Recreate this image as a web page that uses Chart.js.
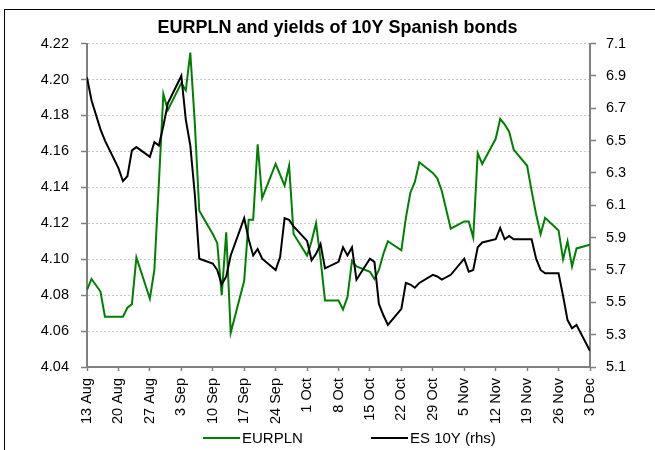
<!DOCTYPE html>
<html>
<head>
<meta charset="utf-8">
<script src="https://cdn.jsdelivr.net/npm/chart.js@4.4.0/dist/chart.umd.min.js"></script>
<style>
  html, body { margin: 0; padding: 0; background: #fff; }
  #wrap { position: relative; width: 655px; height: 450px; overflow: hidden; }
  #frame { position: absolute; left: 4px; top: 9px; width: 700px; height: 500px; border: 1px solid #000; }
  canvas { position: absolute; left: 0; top: 0; }
</style>
</head>
<body>
<div id="wrap">
  <div id="frame"></div>
  <canvas id="chart" width="655" height="450"></canvas>
</div>
<script>
// Business days, Aug 13 - Dec 3 2012 (null = holiday, no quote)
const dates = [
  "2012-08-13", "2012-08-14", "2012-08-15", "2012-08-16", "2012-08-17",
  "2012-08-20", "2012-08-21", "2012-08-22", "2012-08-23", "2012-08-24",
  "2012-08-27", "2012-08-28", "2012-08-29", "2012-08-30", "2012-08-31",
  "2012-09-03", "2012-09-04", "2012-09-05", "2012-09-06", "2012-09-07",
  "2012-09-10", "2012-09-11", "2012-09-12", "2012-09-13", "2012-09-14",
  "2012-09-17", "2012-09-18", "2012-09-19", "2012-09-20", "2012-09-21",
  "2012-09-24", "2012-09-25", "2012-09-26", "2012-09-27", "2012-09-28",
  "2012-10-01", "2012-10-02", "2012-10-03", "2012-10-04", "2012-10-05",
  "2012-10-08", "2012-10-09", "2012-10-10", "2012-10-11", "2012-10-12",
  "2012-10-15", "2012-10-16", "2012-10-17", "2012-10-18", "2012-10-19",
  "2012-10-22", "2012-10-23", "2012-10-24", "2012-10-25", "2012-10-26",
  "2012-10-29", "2012-10-30", "2012-10-31", "2012-11-01", "2012-11-02",
  "2012-11-05", "2012-11-06", "2012-11-07", "2012-11-08", "2012-11-09",
  "2012-11-12", "2012-11-13", "2012-11-14", "2012-11-15", "2012-11-16",
  "2012-11-19", "2012-11-20", "2012-11-21", "2012-11-22", "2012-11-23",
  "2012-11-26", "2012-11-27", "2012-11-28", "2012-11-29", "2012-11-30",
  "2012-12-03"
];

const eurpln = [
  4.083, 4.089, null, 4.082, 4.068,
  4.068, 4.068, 4.073, 4.075, 4.101,
  4.078, 4.094, 4.142, 4.192, 4.183,
  4.198, 4.194, 4.215, 4.176, 4.127,
  4.114, 4.109, 4.080, 4.115, 4.059,
  4.088, 4.122, 4.122, 4.164, 4.134,
  4.153, 4.147, 4.141, 4.152, 4.114,
  4.102, 4.110, 4.120, 4.100, 4.077,
  4.077, 4.072, 4.079, 4.099, 4.096,
  4.093, 4.089, 4.094, 4.103, 4.110,
  4.105, 4.123, 4.137, 4.143, 4.154,
  4.148, 4.145, 4.138, null, 4.117,
  4.121, 4.121, 4.112, 4.159, 4.153,
  4.167, 4.178, 4.175, 4.171, 4.161,
  4.152, 4.138, 4.125, 4.114, 4.123,
  4.116, 4.100, 4.110, 4.096, 4.106,
  4.108
];

const es10y = [
  6.89, 6.75, null, 6.57, 6.50,
  6.33, 6.25, 6.28, 6.44, 6.46,
  6.40, 6.49, 6.47, 6.59, 6.73,
  6.90, 6.63, 6.47, 6.17, 5.77,
  5.74, 5.70, 5.61, 5.66, 5.79,
  6.02, 5.89, 5.79, 5.83, 5.77,
  5.70, 5.78, 6.02, 6.01, 5.97,
  5.88, 5.76, 5.80, 5.86, 5.71,
  5.75, 5.84, 5.79, 5.84, 5.64,
  5.77, 5.75, 5.49, 5.42, 5.36,
  5.46, 5.62, 5.61, 5.59, 5.62,
  5.67, 5.66, 5.64, null, 5.67,
  5.77, 5.69, 5.70, 5.84, 5.87,
  5.89, 5.96, 5.89, 5.91, 5.89,
  5.89, 5.89, 5.77, 5.70, 5.68,
  5.68, 5.54, 5.39, 5.34, 5.36,
  5.20
];

const weekLabels = [
  "13 Aug", "20 Aug", "27 Aug", "3 Sep", "10 Sep", "17 Sep", "24 Sep",
  "1 Oct", "8 Oct", "15 Oct", "22 Oct", "29 Oct", "5 Nov", "12 Nov",
  "19 Nov", "26 Nov", "3 Dec"
];

const fontFamily = '"Liberation Sans", Arial, sans-serif';
const axisGray = '#808080';

// day offsets from the first date
const day0 = Date.parse(dates[0]);
const days = dates.map(d => (Date.parse(d) - day0) / 86400000);
const toPoints = vals => days.map((x, i) => ({ x: x, y: vals[i] }));

// simple line legend under the axis
const lineLegend = {
  id: 'lineLegend',
  afterDraw(chart) {
    const ctx = chart.ctx;
    const y = 438;
    const starts = [203, 371];
    ctx.save();
    ctx.font = '15px ' + fontFamily;
    ctx.textBaseline = 'middle';
    chart.data.datasets.forEach((ds, i) => {
      const x = starts[i];
      ctx.strokeStyle = ds.borderColor;
      ctx.lineWidth = 2;
      ctx.beginPath();
      ctx.moveTo(x, y);
      ctx.lineTo(x + 37, y);
      ctx.stroke();
      ctx.fillStyle = '#000';
      ctx.fillText(ds.label, x + 39, y + 1);
    });
    ctx.restore();
  }
};

new Chart(document.getElementById('chart'), {
  type: 'line',
  data: {
    datasets: [
      {
        label: 'EURPLN',
        data: toPoints(eurpln),
        yAxisID: 'y',
        borderColor: '#008000',
        borderWidth: 2,
        pointRadius: 0,
        spanGaps: true,
        order: 1
      },
      {
        label: 'ES 10Y (rhs)',
        data: toPoints(es10y),
        yAxisID: 'y1',
        borderColor: '#000000',
        borderWidth: 2,
        pointRadius: 0,
        spanGaps: true,
        order: 0
      }
    ]
  },
  options: {
    responsive: false,
    animation: false,
    devicePixelRatio: 1,
    layout: { padding: { left: 20, right: 0, top: 0, bottom: 23 } },
    plugins: {
      legend: { display: false },
      tooltip: { enabled: false },
      title: {
        display: true,
        text: 'EURPLN and yields of 10Y Spanish bonds',
        color: '#000',
        font: { family: fontFamily, size: 18, weight: 'bold' },
        padding: { top: 17, bottom: 5 }
      }
    },
    scales: {
      x: {
        type: 'linear',
        min: 0,
        max: (weekLabels.length - 1) * 7,
        afterBuildTicks: s => { s.ticks = weekLabels.map((l, i) => ({ value: i * 7 })); },
        afterFit: s => { s.height = 60; },
        ticks: {
          callback: v => weekLabels[Math.round(v / 7)],
          autoSkip: false,
          minRotation: 90,
          maxRotation: 90,
          padding: 7,
          color: '#000',
          font: { family: fontFamily, size: 14.5 }
        },
        grid: { drawOnChartArea: false, drawTicks: true, tickLength: 4, tickColor: axisGray, tickWidth: 1.5 },
        border: { color: axisGray, width: 2 }
      },
      y: {
        position: 'left',
        min: 4.04,
        max: 4.22,
        afterFit: s => { s.width = 67; },
        ticks: {
          stepSize: 0.02,
          callback: v => v.toFixed(2),
          padding: 12,
          color: '#000',
          font: { family: fontFamily, size: 14.5 }
        },
        grid: {
          color: '#c8c8c8', lineWidth: 1, borderDash: [2, 2],
          tickLength: 6, tickColor: axisGray, tickWidth: 1.5, tickBorderDash: []
        },
        border: { color: axisGray, width: 2, dash: [2, 2] }
      },
      y1: {
        position: 'right',
        min: 5.1,
        max: 7.1,
        afterFit: s => { s.width = 65; },
        ticks: {
          stepSize: 0.2,
          callback: v => v.toFixed(1),
          padding: 10,
          color: '#000',
          font: { family: fontFamily, size: 14.5 }
        },
        grid: { drawOnChartArea: false, tickLength: 6, tickColor: axisGray, tickWidth: 1.5 },
        border: { color: axisGray, width: 2 }
      }
    }
  },
  plugins: [lineLegend]
});
</script>
</body>
</html>
